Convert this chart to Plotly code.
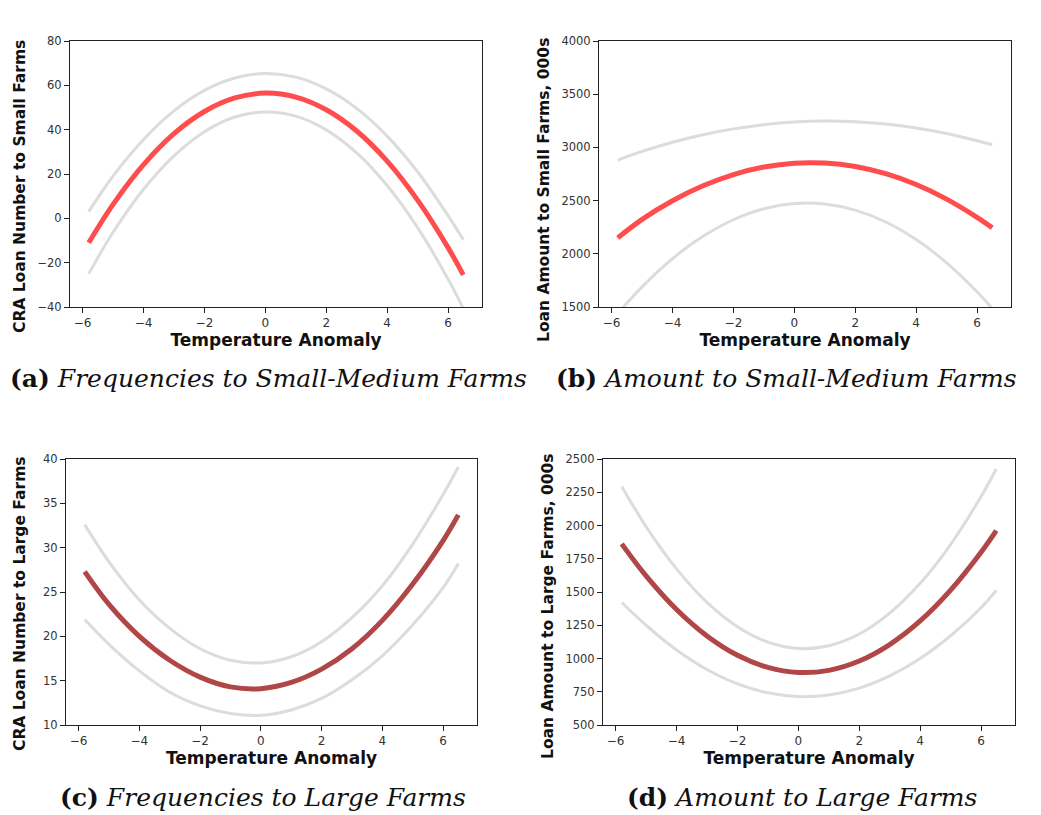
import plotly.graph_objects as go

# Temperature anomaly sample points (x)
temp = [-5.8, -5, -4, -3, -2, -1, 0, 1, 2, 3, 4, 5, 6, 6.5]

# (a) Frequencies to Small-Medium Farms
a_fit = [-11, 6.3, 24.2, 38.2, 48.2, 54.3, 56.5, 54.7, 49.0, 39.4, 25.8, 8.2, -13.2, -25.5]
a_hi = [3, 19.1, 35.6, 48.5, 57.7, 63.3, 65.3, 63.7, 58.4, 49.6, 37.1, 21.0, 1.2, -9.6]
a_lo = [-25, -6.3, 13.1, 28.2, 39.1, 45.7, 48, 46.1, 39.9, 29.5, 14.8, -4.2, -27.4, -40.6]

# (b) Amount to Small-Medium Farms
b_fit = [2150, 2324, 2499, 2639, 2745, 2815, 2852, 2853, 2821, 2753, 2651, 2514, 2343, 2245]
b_hi = [2880, 2962, 3048, 3119, 3174, 3214, 3239, 3248, 3242, 3220, 3183, 3131, 3063, 3026]
b_lo = [1440, 1689, 1954, 2164, 2320, 2423, 2472, 2468, 2410, 2299, 2134, 1915, 1643, 1486]

# (c) Frequencies to Large Farms
c_fit = [27.3, 23.6, 20.0, 17.3, 15.4, 14.3, 14.1, 14.8, 16.3, 18.6, 21.8, 25.9, 30.8, 33.7]
c_hi = [32.6, 28.4, 24.1, 20.9, 18.6, 17.3, 17.0, 17.7, 19.4, 22.1, 25.7, 30.4, 36.0, 39.1]
c_lo = [21.9, 19.1, 16.1, 13.7, 12.15, 11.3, 11.1, 11.7, 13.0, 15.1, 17.8, 21.3, 25.5, 28.2]

# (d) Amount to Large Farms
d_fit = [1862, 1621, 1368, 1169, 1024, 933, 895, 911, 981, 1105, 1282, 1514, 1799, 1962]
d_hi = [2294, 1992, 1674, 1422, 1239, 1123, 1075, 1096, 1184, 1341, 1565, 1857, 2218, 2425]
d_lo = [1421, 1250, 1064, 917, 809, 742, 714, 726, 777, 869, 1000, 1171, 1382, 1511]

x_ticks = [-6, -4, -2, 0, 2, 4, 6]
x_title = "Temperature Anomaly"
y_titles = ["CRA Loan Number to Small Farms", "Loan Amount to Small Farms, 000s",
            "CRA Loan Number to Large Farms", "Loan Amount to Large Farms, 000s"]
captions = ["<b>(a)</b> <i>Frequencies to Small-Medium Farms</i>",
            "<b>(b)</b> <i>Amount to Small-Medium Farms</i>",
            "<b>(c)</b> <i>Frequencies to Large Farms</i>",
            "<b>(d)</b> <i>Amount to Large Farms</i>"]
y_ranges = [(-40, 80), (1500, 4000), (10, 40), (500, 2500)]
y_dticks = [20, 500, 5, 250]

OFF = 8  # page body margin
W, H = 1041 - OFF, 815 - OFF
# plot-area pixel boxes in window coordinates (left, right, top, bottom)
boxes = [(70, 482, 41, 307), (599, 1011, 41, 307), (66, 477, 459, 725), (603, 1015, 459, 725)]
ytitle_x = [20, 544, 20, 548]
ytitle_yc = [187, 190, 604, 606]
caption_pos = [(268, 378), (786, 378), (263, 797), (802, 797)]

def px(v):
    return (v - OFF) / W

def py(v):
    return 1 - (v - OFF) / H

series = [(a_fit, a_hi, a_lo), (b_fit, b_hi, b_lo), (c_fit, c_hi, c_lo), (d_fit, d_hi, d_lo)]
fit_colors = ["rgba(255,45,45,0.85)", "rgba(255,45,45,0.85)", "#b04646", "#b04646"]
gray = "rgba(205,205,205,0.7)"

fig = go.Figure()
annotations = []
for i, (fit, hi, lo) in enumerate(series):
    xa = "x" if i == 0 else f"x{i+1}"
    ya = "y" if i == 0 else f"y{i+1}"
    for band in (hi, lo):
        fig.add_trace(go.Scatter(x=temp, y=band, mode="lines", xaxis=xa, yaxis=ya,
                                 line=dict(color=gray, width=3, shape="spline"),
                                 showlegend=False, hoverinfo="skip"))
    fig.add_trace(go.Scatter(x=temp, y=fit, mode="lines", xaxis=xa, yaxis=ya,
                             line=dict(color=fit_colors[i], width=5, shape="spline"),
                             showlegend=False))
    l, r, t, b = boxes[i]
    axis_common = dict(showline=True, linecolor="#222", linewidth=1, mirror=True,
                       ticks="outside", ticklen=5, tickcolor="#222", showgrid=False,
                       zeroline=False, automargin=False,
                       tickfont=dict(family="DejaVu Sans", size=12, color="#333"))
    xkey = "xaxis" if i == 0 else f"xaxis{i+1}"
    ykey = "yaxis" if i == 0 else f"yaxis{i+1}"
    fig.update_layout(**{
        xkey: dict(domain=[px(l), px(r)], anchor=ya,
                   range=[-6.415, 7.115], tickvals=x_ticks,
                   ticktext=[str(v).replace("-", "\u2212") for v in x_ticks],
                   title=dict(text=f"<b>{x_title}</b>", standoff=2,
                              font=dict(family="DejaVu Sans", size=17, color="#111")),
                   **axis_common),
        ykey: dict(domain=[py(b), py(t)], anchor=xa,
                   range=list(y_ranges[i]), dtick=y_dticks[i], tickformat="d",
                   **axis_common),
    })
    annotations.append(dict(text=f"<b>{y_titles[i]}</b>", textangle=-90, xref="paper", yref="paper",
                            x=px(ytitle_x[i]), y=py(ytitle_yc[i]), showarrow=False,
                            xanchor="center", yanchor="middle",
                            font=dict(family="DejaVu Sans", size=15.5, color="#111")))
    cx, cy = caption_pos[i]
    annotations.append(dict(text=captions[i], xref="paper", yref="paper",
                            x=px(cx), y=py(cy), showarrow=False,
                            xanchor="center", yanchor="middle",
                            font=dict(family="DejaVu Serif", size=25, color="#111")))

fig.update_yaxes(tickfont=dict(size=11.5))
fig.update_layout(width=W, height=H, margin=dict(l=0, r=0, t=0, b=0, autoexpand=False),
                  paper_bgcolor="white", plot_bgcolor="white",
                  annotations=annotations, showlegend=False)
fig.write_html("out.html")
